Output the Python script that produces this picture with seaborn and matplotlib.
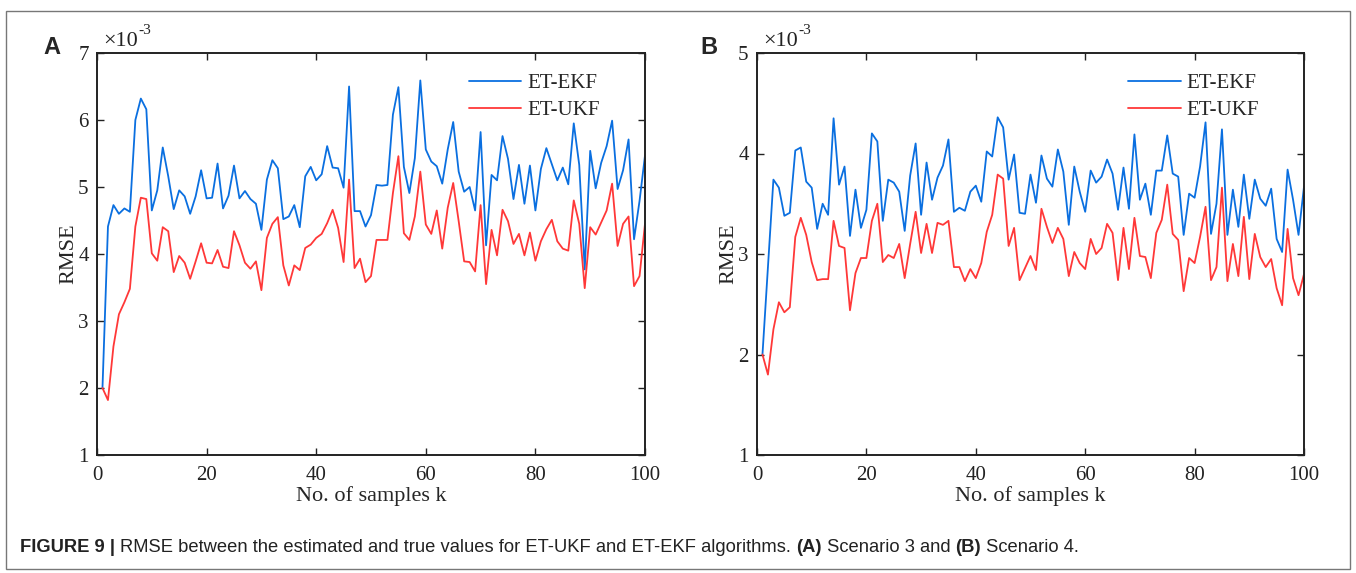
import numpy as np
import pandas as pd
import matplotlib
matplotlib.use("Agg")
import matplotlib.pyplot as plt
import seaborn as sns
from matplotlib.patches import Rectangle

# --- data (RMSE, units of 1e-3) ---
k = list(range(1, 101))

a_ekf = [2.00, 4.41, 4.73, 4.60, 4.68, 4.63, 6.00, 6.32, 6.16, 4.65,
         4.95, 5.59, 5.16, 4.67, 4.95, 4.86, 4.60, 4.86, 5.25, 4.83,
         4.84, 5.35, 4.68, 4.87, 5.32, 4.83, 4.94, 4.82, 4.75, 4.36,
         5.11, 5.40, 5.28, 4.52, 4.56, 4.73, 4.40, 5.16, 5.30, 5.10,
         5.19, 5.61, 5.29, 5.28, 4.99, 6.50, 4.64, 4.64, 4.41, 4.58,
         5.03, 5.02, 5.03, 6.08, 6.49, 5.30, 4.91, 5.43, 6.59, 5.56,
         5.38, 5.31, 5.05, 5.56, 5.97, 5.23, 4.93, 5.00, 4.65, 5.82,
         4.13, 5.18, 5.10, 5.76, 5.42, 4.82, 5.33, 4.75, 5.32, 4.65,
         5.27, 5.58, 5.34, 5.10, 5.29, 5.04, 5.95, 5.33, 3.77, 5.54,
         4.98, 5.36, 5.61, 5.99, 4.97, 5.25, 5.71, 4.22, 4.79, 5.47]

a_ukf = [2.00, 1.82, 2.62, 3.10, 3.28, 3.48, 4.41, 4.84, 4.82, 4.01,
         3.90, 4.40, 4.34, 3.73, 3.97, 3.87, 3.63, 3.89, 4.16, 3.87,
         3.86, 4.06, 3.81, 3.79, 4.34, 4.13, 3.87, 3.78, 3.89, 3.46,
         4.24, 4.45, 4.55, 3.83, 3.53, 3.83, 3.76, 4.09, 4.14, 4.24,
         4.30, 4.46, 4.66, 4.39, 3.88, 5.11, 3.79, 3.93, 3.58, 3.67,
         4.21, 4.21, 4.21, 4.91, 5.46, 4.31, 4.21, 4.56, 5.23, 4.44,
         4.30, 4.65, 4.08, 4.69, 5.06, 4.49, 3.89, 3.88, 3.74, 4.73,
         3.55, 4.36, 3.98, 4.66, 4.49, 4.15, 4.30, 3.98, 4.32, 3.90,
         4.19, 4.37, 4.51, 4.19, 4.08, 4.05, 4.80, 4.45, 3.49, 4.40,
         4.29, 4.47, 4.65, 5.05, 4.12, 4.45, 4.56, 3.52, 3.67, 4.45]

b_ekf = [2.00, 2.87, 3.74, 3.66, 3.38, 3.41, 4.03, 4.06, 3.72, 3.66,
         3.25, 3.50, 3.39, 4.35, 3.69, 3.87, 3.18, 3.64, 3.26, 3.44,
         4.20, 4.12, 3.33, 3.74, 3.71, 3.62, 3.23, 3.78, 4.10, 3.39,
         3.91, 3.54, 3.76, 3.88, 4.14, 3.42, 3.46, 3.43, 3.62, 3.68,
         3.52, 4.02, 3.97, 4.36, 4.26, 3.74, 3.99, 3.41, 3.40, 3.79,
         3.51, 3.98, 3.75, 3.67, 4.04, 3.82, 3.29, 3.87, 3.62, 3.42,
         3.83, 3.71, 3.77, 3.94, 3.80, 3.44, 3.86, 3.45, 4.19, 3.54,
         3.70, 3.39, 3.83, 3.83, 4.18, 3.80, 3.77, 3.19, 3.60, 3.56,
         3.87, 4.31, 3.20, 3.50, 4.24, 3.19, 3.64, 3.27, 3.79, 3.35,
         3.74, 3.55, 3.48, 3.65, 3.15, 3.02, 3.84, 3.54, 3.19, 3.67]

b_ukf = [2.00, 1.80, 2.25, 2.52, 2.42, 2.47, 3.17, 3.36, 3.19, 2.92,
         2.74, 2.75, 2.75, 3.33, 3.08, 3.06, 2.44, 2.81, 2.96, 2.96,
         3.33, 3.50, 2.92, 2.99, 2.96, 3.10, 2.76, 3.10, 3.42, 3.01,
         3.30, 3.01, 3.31, 3.29, 3.33, 2.87, 2.87, 2.73, 2.85, 2.76,
         2.91, 3.22, 3.39, 3.79, 3.75, 3.08, 3.26, 2.74, 2.86, 2.98,
         2.84, 3.45, 3.27, 3.11, 3.26, 3.15, 2.78, 3.02, 2.91, 2.85,
         3.15, 3.00, 3.06, 3.30, 3.21, 2.74, 3.26, 2.85, 3.36, 2.98,
         2.97, 2.76, 3.21, 3.34, 3.69, 3.20, 3.14, 2.63, 2.96, 2.91,
         3.17, 3.47, 2.74, 2.87, 3.66, 2.73, 3.10, 2.78, 3.37, 2.75,
         3.20, 2.97, 2.87, 2.95, 2.66, 2.49, 3.25, 2.76, 2.59, 2.80]

methods = ["ET-EKF", "ET-UKF"]
colors = {"ET-EKF": "#0a6fe0", "ET-UKF": "#ff3838"}
x_ticks = [0, 20, 40, 60, 80, 100]
caption = [("FIGURE 9 | ", "bold"),
           ("RMSE between the estimated and true values for ET-UKF and ET-EKF algorithms. ", "normal"),
           ("(A)", "bold"), (" Scenario 3 and ", "normal"),
           ("(B)", "bold"), (" Scenario 4.", "normal")]

sns.set_theme(style="ticks")
plt.rcParams["font.family"] = ["Liberation Serif", "DejaVu Serif"]

fig = plt.figure(figsize=(13.56, 5.73), dpi=100)
W, H = 1356, 573


def px_axes(l, t, r, b):
    return fig.add_axes([l / W, 1 - b / H, (r - l) / W, (b - t) / H])


panels = [
    ("A", px_axes(97, 53, 645, 455), a_ekf, a_ukf, (1, 7), 52),
    ("B", px_axes(757, 53, 1304, 455), b_ekf, b_ukf, (1, 5), 709),
]

renderer = fig.canvas.get_renderer()

for letter, ax, ekf, ukf, ylim, letter_x in panels:
    df = pd.DataFrame({"k": k * 2,
                       "RMSE": ekf + ukf,
                       "method": ["ET-EKF"] * len(k) + ["ET-UKF"] * len(k)})
    sns.lineplot(data=df, x="k", y="RMSE", hue="method", hue_order=methods,
                 palette=colors, linewidth=1.3, ax=ax, legend=False)
    ax.set_xlim(0, 100)
    ax.set_ylim(*ylim)
    ax.set_xticks(x_ticks)
    ax.set_yticks(range(ylim[0], ylim[1] + 1))
    ax.tick_params(direction="in", length=5, width=1, top=True, right=True,
                   labelsize=15, colors="#222222")
    ax.tick_params(axis="x", pad=8)
    ax.tick_params(axis="y", pad=6)
    for s in ax.spines.values():
        s.set_linewidth(1.4)
        s.set_color("#222222")
    ax.set_xlabel("No. of samples k", fontsize=16, labelpad=1)
    ax.set_ylabel("RMSE", fontsize=16)
    ax.yaxis.set_label_coords(-0.034, 0.5)
    # "x10" with a hyphen exponent, as in the original
    t10 = ax.text(0.012, 1.006, "\u00d710", transform=ax.transAxes,
                  fontsize=16, ha="left", va="bottom", color="#222222")
    w10 = t10.get_window_extent(renderer=renderer).width / ax.bbox.width
    ax.text(0.012 + w10, 1.04, "-3", transform=ax.transAxes,
            fontsize=11, ha="left", va="bottom", color="#222222")
    handles = [plt.Line2D([], [], color=colors[m], lw=1.3) for m in methods]
    ax.legend(handles, methods, loc="upper left", bbox_to_anchor=(0.66, 0.975),
              frameon=False, fontsize=15, handlelength=2.5, handletextpad=0.3,
              labelspacing=0.35, borderpad=0)
    fig.text(letter_x / W, 1 - 47 / H, letter, fontsize=17, fontweight="bold",
             family="Liberation Sans", ha="center", va="center")

# caption built piece by piece
cx = 20 / W
for txt, weight in caption:
    t = fig.text(cx, 1 - 547 / H, txt, fontsize=13.2, fontweight=weight,
                 family="Liberation Sans", ha="left", va="center", color="#222222")
    bb = t.get_window_extent(renderer=renderer)
    cx += bb.width / W

fig.add_artist(Rectangle((6 / W, 1 - 569 / H), 1344 / W, 558 / H,
                         transform=fig.transFigure, fill=False,
                         edgecolor="#777777", linewidth=1))

fig.savefig("out.png", dpi=100)
